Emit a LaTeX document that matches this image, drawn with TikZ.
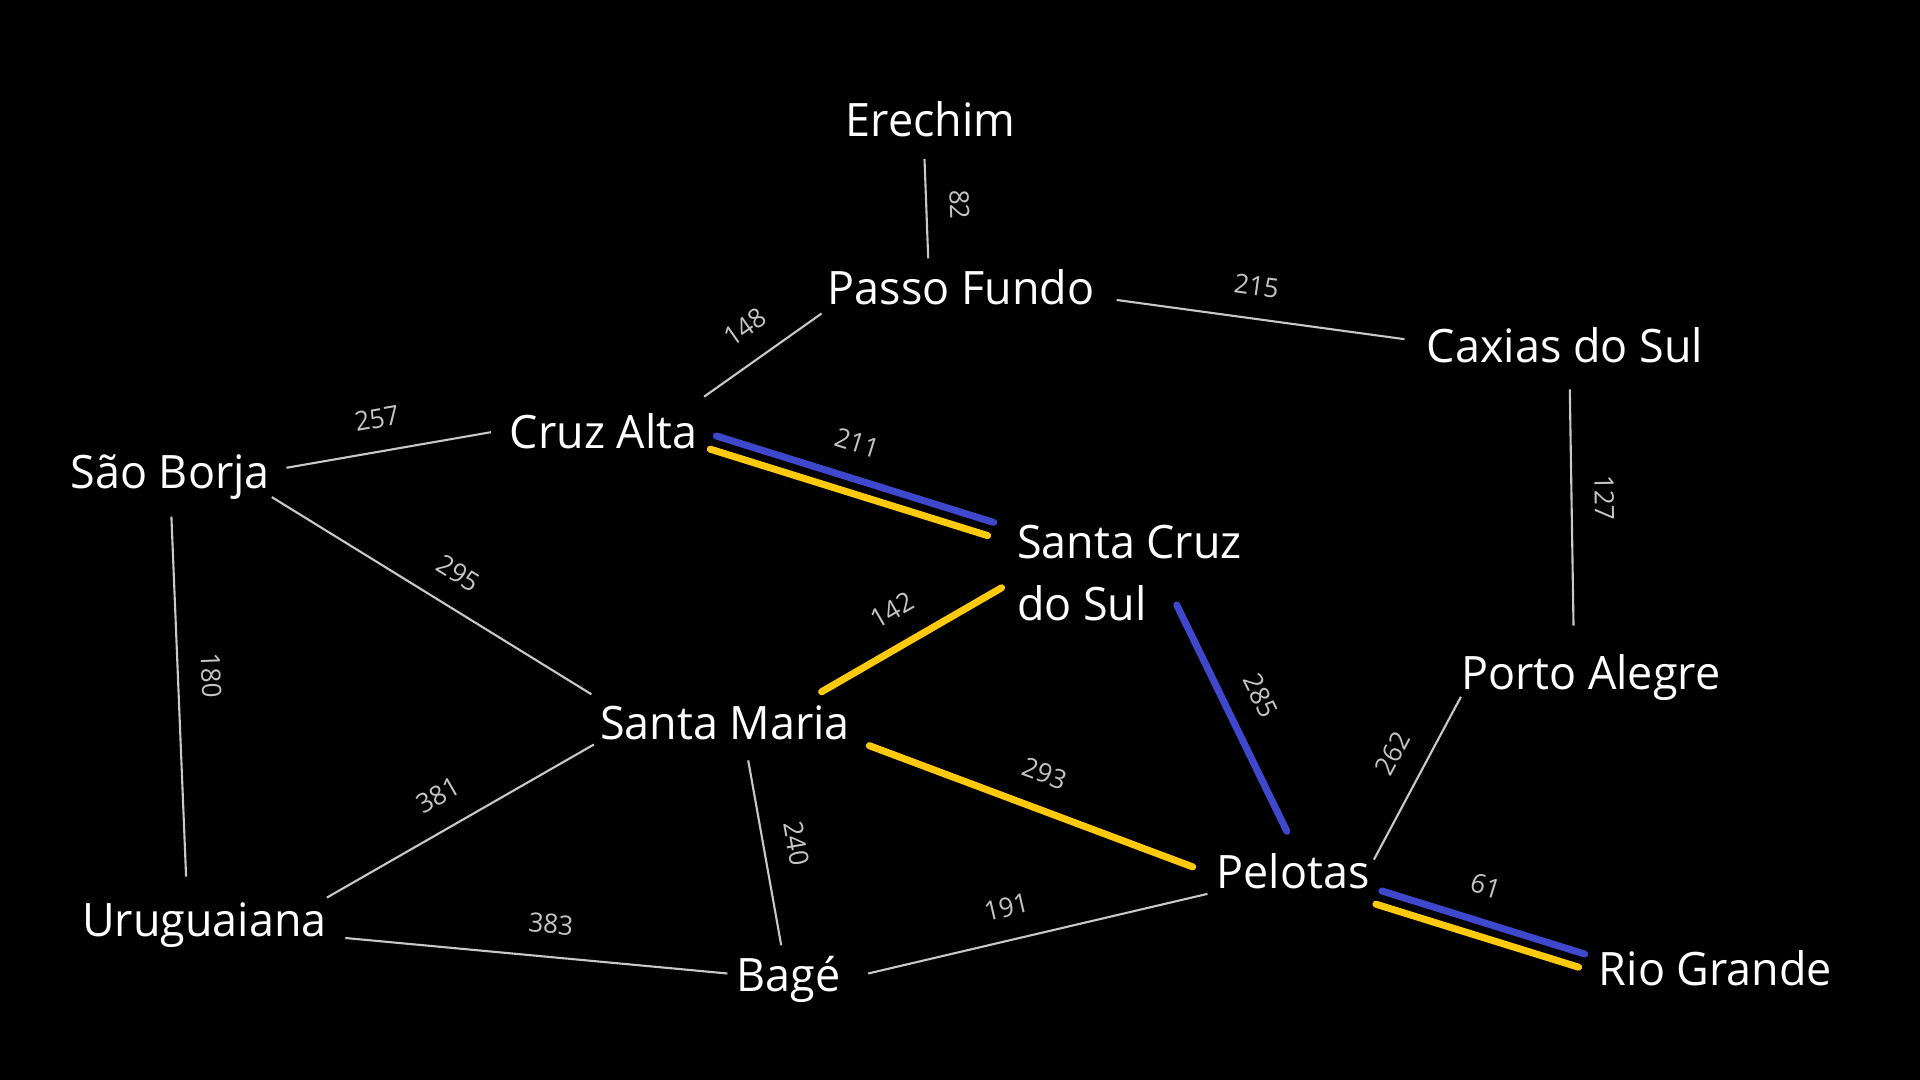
\documentclass[tikz,border=0pt]{standalone}
\usepackage{fontspec}
\setmainfont{Open Sans}[FakeStretch=0.975]
\definecolor{routeblue}{HTML}{3F48CC}
\definecolor{routeyellow}{HTML}{FFC90E}
\definecolor{roadgray}{HTML}{C8C8C8}
\definecolor{distgray}{HTML}{C4C4C4}
\begin{document}
\begin{tikzpicture}[
        city/.style={text=white, inner sep=0pt, anchor=base, font=\fontsize{13.1}{17.75}\selectfont},
        road/.style={draw=roadgray, line width=0.6pt},
        route/.style={line width=2pt, line cap=round},
        liftup/.style={transform canvas={shift={(0.03,0.066)}}},
        liftdown/.style={transform canvas={shift={(-0.03,-0.066)}}},
        dist/.style={text=distgray, font=\fontsize{7.6}{9}\selectfont, midway, sloped, above=3pt}]
        % --- Fond ---
        \useasboundingbox (0,0) rectangle (19.2,10.8);
        \fill[black] (0,0) rectangle (19.2,10.8);

        % --- Villes ---
        \node[city] (er) at (9.306, 9.432) {Erechim};
        \node[city] (pf) at (9.612, 7.751) {Passo Fundo};
        \node[city] (cx) at (15.649, 7.175) {Caxias do Sul};
        \node[city] (ca) at (6.037, 6.318) {Cruz Alta};
        \node[city] (sb) at (1.702, 5.910) {São Borja};
        \node[city, anchor=base west, align=left] (sc) at (10.163, 4.592) {Santa Cruz\\do Sul};
        \node[city] (pa) at (15.906, 3.906) {Porto Alegre};
        \node[city] (sm) at (7.249, 3.404) {Santa Maria};
        \node[city] (pe) at (12.931, 1.910) {Pelotas};
        \node[city] (ur) at (2.045, 1.433) {Uruguaiana};
        \node[city] (bg) at (7.886, 0.882) {Bagé};
        \node[city] (rg) at (17.155, 0.943) {Rio Grande};

        % --- Routes ---
        \draw[road] ([shift={(-0.061,-0.224)}]er.base) -- ([shift={(-0.330,0.465)}]pf.base) node[dist, pos=0.47] {82};
        \draw[road] ([shift={(1.555,0.049)}]pf.base) -- ([shift={(-1.604,0.233)}]cx.base) node[dist, pos=0.47] {215};
        \draw[road] ([shift={(1.004,0.515)}]ca.base) -- ([shift={(-1.396,-0.086)}]pf.base) node[dist, pos=0.51] {148};
        \draw[road] ([shift={(1.163,0.212)}]sb.base) -- ([shift={(-1.127,0.160)}]ca.base) node[dist, pos=0.47] {257};
        \draw[road] ([shift={(1.016,-0.081)}]sb.base) -- ([shift={(-1.335,0.453)}]sm.base) node[dist, pos=0.53] {295};
        \draw[road] ([shift={(0.012,-0.277)}]sb.base) -- ([shift={(-0.184,0.600)}]ur.base) node[dist, pos=0.445] {180};
        \draw[road] ([shift={(0.049,-0.269)}]cx.base) -- ([shift={(-0.171,0.637)}]pa.base) node[dist, pos=0.46] {127};
        \draw[road] ([shift={(1.224,0.391)}]ur.base) -- ([shift={(-1.310,-0.049)}]sm.base) node[dist, pos=0.48] {381};
        \draw[road] ([shift={(0.233,-0.208)}]sm.base) -- ([shift={(-0.074,0.465)}]bg.base) node[dist, pos=0.48] {240};
        \draw[road] ([shift={(1.408,-0.013)}]ur.base) -- ([shift={(-0.612,0.183)}]bg.base) node[dist, pos=0.53] {383};
        \draw[road] ([shift={(0.796,0.183)}]bg.base) -- ([shift={(-0.857,-0.049)}]pe.base) node[dist, pos=0.43] {191};
        \draw[road] ([shift={(0.808,0.294)}]pe.base) -- ([shift={(-1.297,-0.074)}]pa.base) node[dist, pos=0.555] {262};

        % --- Chemins (bleu / jaune) ---
        \draw[route, routeblue, liftup] ([shift={(1.096,0.056)}]ca.base) -- ([shift={(-0.257,0.918)}]sc.base west) node[dist, pos=0.47] {211};
        \draw[route, routeyellow, liftdown] ([shift={(1.096,0.056)}]ca.base) -- ([shift={(-0.257,0.918)}]sc.base west);
        \draw[route, routeblue] ([shift={(1.604,0.159)}]sc.base west) -- ([shift={(-0.062,0.576)}]pe.base) node[dist, pos=0.47] {285};
        \draw[route, routeyellow] ([shift={(0.967,0.478)}]sm.base) -- ([shift={(-0.147,0.330)}]sc.base west) node[dist, pos=0.49] {142};
        \draw[route, routeyellow] ([shift={(1.445,-0.061)}]sm.base) -- ([shift={(-1.004,0.221)}]pe.base) node[dist, pos=0.505] {293};
        \draw[route, routeblue, liftup] ([shift={(0.858,-0.086)}]pe.base) -- ([shift={(-1.339,0.251)}]rg.base) node[dist, pos=0.46] {61};
        \draw[route, routeyellow, liftdown] ([shift={(0.858,-0.086)}]pe.base) -- ([shift={(-1.339,0.251)}]rg.base);
    \end{tikzpicture}
\end{document}
